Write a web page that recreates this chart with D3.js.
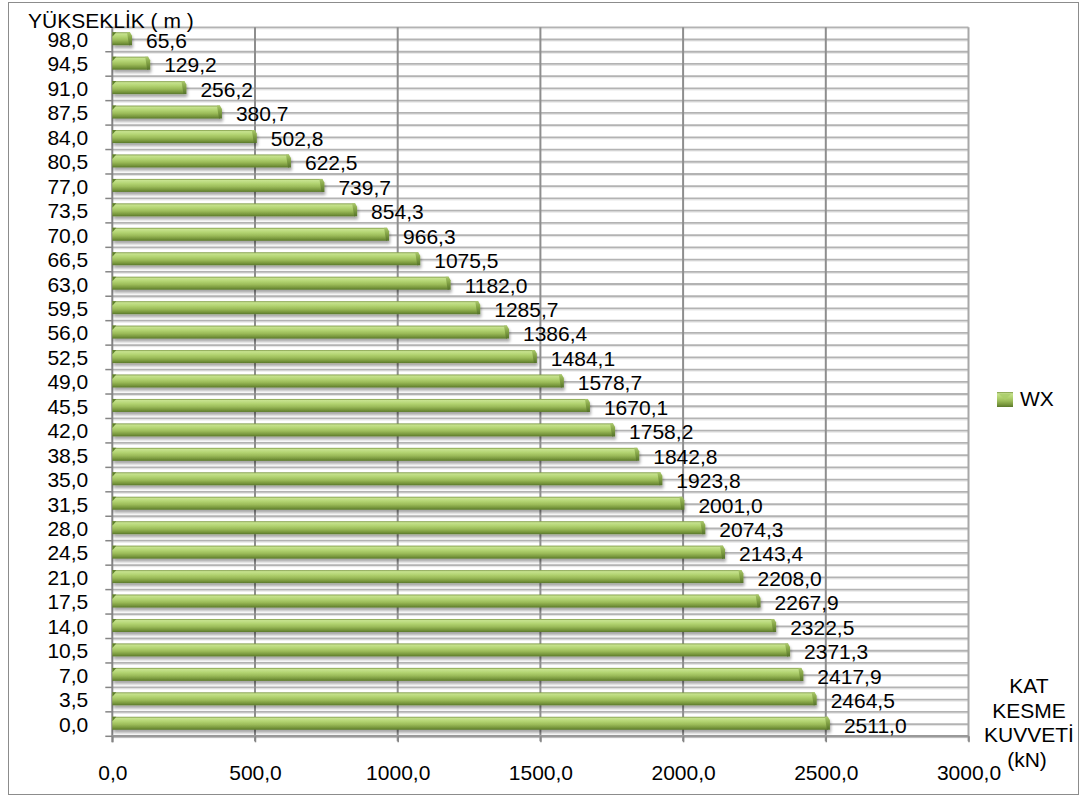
<!DOCTYPE html>
<html>
<head>
<meta charset="utf-8">
<script src="https://cdn.jsdelivr.net/npm/d3@7/dist/d3.min.js"></script>
<style>
  html, body { margin: 0; padding: 0; background: #ffffff; }
  svg { display: block; }
  text { font-family: "Liberation Sans", Arial, sans-serif; fill: #000; }
</style>
</head>
<body>
<svg id="chart" width="1083" height="798"></svg>
<script>
// ---- data ----
const categories = ["0.0","3.5","7.0","10.5","14.0","17.5","21.0","24.5","28.0","31.5","35.0","38.5","42.0","45.5","49.0","52.5","56.0","59.5","63.0","66.5","70.0","73.5","77.0","80.5","84.0","87.5","91.0","94.5","98.0"];
const valuesWX = [2511.0,2464.5,2417.9,2371.3,2322.5,2267.9,2208.0,2143.4,2074.3,2001.0,1923.8,1842.8,1758.2,1670.1,1578.7,1484.1,1386.4,1285.7,1182.0,1075.5,966.3,854.3,739.7,622.5,502.8,380.7,256.2,129.2,65.6];
const xTicks = [0,500,1000,1500,2000,2500,3000];
const seriesName = "WX";
const yTitle = "YÜKSEKLİK ( m )";
const xTitleLines = ["KAT","KESME","KUVVETİ"];
const xUnit = "(kN)";

const FS = 21;
const trLocale = d3.formatLocale({decimal: ",", thousands: "", grouping: [3], currency: ["", ""]});
const fmt1 = trLocale.format(".1f");

const svg = d3.select("#chart");
const W = 1083, H = 798;
svg.append("rect").attr("width", W).attr("height", H).attr("fill", "#fff");
svg.append("rect").attr("x", 8.5).attr("y", 2.5).attr("width", 1070).attr("height", 792)
  .attr("fill", "none").attr("stroke", "#8c8c8c").attr("stroke-width", 1);

const pLeft = 112.3, pRight = 968.5, pTop = 27.3, pBottom = 736.3;
const x = d3.scaleLinear().domain([0, 3000]).range([pLeft, pRight]);
const y = d3.scaleBand().domain(categories.slice().reverse()).range([pTop, pBottom]).padding(0);
const bw = y.bandwidth();

// defs
const defs = svg.append("defs");
const g1 = defs.append("linearGradient").attr("id", "barGrad").attr("x1", 0).attr("y1", 0).attr("x2", 0).attr("y2", 1);
[["0%","#7d9845"],["12%","#c6e28e"],["35%","#b3d472"],["60%","#9bbb59"],["85%","#76953b"],["100%","#5a782b"]]
  .forEach(s => g1.append("stop").attr("offset", s[0]).attr("stop-color", s[1]));
const g2 = defs.append("linearGradient").attr("id", "capGrad").attr("x1", 0).attr("y1", 0).attr("x2", 0).attr("y2", 1);
[["0%","#a9c86a"],["50%","#7f9f42"],["100%","#55722a"]]
  .forEach(s => g2.append("stop").attr("offset", s[0]).attr("stop-color", s[1]));
const f = defs.append("filter").attr("id", "shadow").attr("x", "-5%").attr("y", "-50%").attr("width", "110%").attr("height", "220%");
f.append("feDropShadow").attr("dx", 1).attr("dy", 3).attr("stdDeviation", 1.6)
  .attr("flood-color", "#000").attr("flood-opacity", 0.35);

// horizontal gridlines (boundaries and centres)
const hLines = [];
for (let i = 0; i <= categories.length * 2; i++) hLines.push(pTop + i * bw / 2);
const grid = svg.append("g");
grid.append("g").selectAll("line").data(hLines).join("line")
  .attr("x1", pLeft).attr("x2", pRight).attr("y1", d => d + 1.5).attr("y2", d => d + 1.5)
  .attr("stroke", "#e4e4e4").attr("stroke-width", 1);
grid.append("g").selectAll("line").data(hLines).join("line")
  .attr("x1", pLeft).attr("x2", pRight).attr("y1", d => d).attr("y2", d => d)
  .attr("stroke", "#b3b3b3").attr("stroke-width", 1.8);

// vertical gridlines
grid.append("g").selectAll("line").data(xTicks.slice(1)).join("line")
  .attr("x1", d => x(d)).attr("x2", d => x(d)).attr("y1", pTop).attr("y2", pBottom + 5)
  .attr("stroke", d => d === 3000 ? "#a8a8a8" : "#8e8e8e").attr("stroke-width", 2);

// axes lines and ticks
svg.append("line").attr("x1", pLeft).attr("x2", pLeft).attr("y1", pTop).attr("y2", pBottom + 6)
  .attr("stroke", "#858585").attr("stroke-width", 2);
svg.append("line").attr("x1", pLeft).attr("x2", pRight).attr("y1", pBottom).attr("y2", pBottom)
  .attr("stroke", "#999").attr("stroke-width", 2.5);
const yBounds = [];
for (let i = 0; i <= categories.length; i++) yBounds.push(pTop + i * bw);
svg.append("g").selectAll("line").data(yBounds).join("line")
  .attr("x1", pLeft - 7).attr("x2", pLeft).attr("y1", d => d).attr("y2", d => d)
  .attr("stroke", "#858585").attr("stroke-width", 1.5);

// bars
const bars = svg.append("g").attr("filter", "url(#shadow)");
categories.forEach((c, i) => {
  const v = valuesWX[i];
  const cy = y(c) + bw / 2 - 0.8;
  const x0 = x(0), xe = x(v);
  const g = bars.append("g");
  g.append("rect").attr("x", x0).attr("y", cy - 6.5).attr("width", Math.max(0, xe - x0 - 1)).attr("height", 13)
    .attr("fill", "url(#barGrad)");
  g.append("path")
    .attr("d", `M${xe - 4},${cy - 6.5} L${xe - 1},${cy - 6.5} L${xe + 1},${cy - 3} L${xe + 1},${cy + 6.5} L${xe - 2},${cy + 6.5} Z`)
    .attr("fill", "url(#capGrad)");
  g.append("path")
    .attr("d", `M${x0},${cy - 6.5} L${x0 + 4},${cy - 6.5} L${x0},${cy - 2} Z`)
    .attr("fill", "#5f7f2e");
});

// value labels
svg.append("g").selectAll("text").data(categories).join("text")
  .attr("x", (c, i) => x(valuesWX[i]) + 15)
  .attr("y", c => y(c) + bw / 2 + 8.5)
  .attr("font-size", FS)
  .text((c, i) => fmt1(valuesWX[i]));

// y axis labels via axis
const yAxis = d3.axisLeft(y).tickSize(0).tickPadding(24).tickFormat(c => fmt1(+c));
const yg = svg.append("g").attr("transform", `translate(${pLeft},0)`).call(yAxis);
yg.select(".domain").remove();
yg.selectAll("text").attr("font-size", FS).attr("font-family", "Liberation Sans, Arial, sans-serif")
  .attr("fill", "#000").attr("dy", null).attr("y", 7.5);

// x axis
const xAxis = d3.axisBottom(x).tickValues(xTicks).tickSize(6).tickPadding(24).tickFormat(fmt1);
const xg = svg.append("g").attr("transform", `translate(0,${pBottom})`).call(xAxis);
xg.select(".domain").remove();
xg.selectAll(".tick line").attr("stroke", "#858585").attr("stroke-width", 1.5);
xg.selectAll("text").attr("font-size", FS).attr("font-family", "Liberation Sans, Arial, sans-serif")
  .attr("fill", "#000").attr("dy", null).attr("y", 44);

// titles
svg.append("text").attr("x", 28).attr("y", 28).attr("font-size", FS).text(yTitle);
svg.append("g").selectAll("text").data(xTitleLines).join("text")
  .attr("x", 1029).attr("y", (d, i) => 693 + i * 24.5).attr("text-anchor", "middle")
  .attr("font-size", FS).text(d => d);
svg.append("text").attr("x", 1027).attr("y", 767).attr("text-anchor", "middle").attr("font-size", FS).text(xUnit);

// legend
const lg = svg.append("g");
lg.append("rect").attr("x", 997).attr("y", 392).attr("width", 16).attr("height", 15).attr("fill", "url(#barGrad)");
lg.append("path").attr("d", "M999,394 L1011,394 L1005,400 Z").attr("fill", "#a9cc6a").attr("opacity", 0.8);
lg.append("text").attr("x", 1020).attr("y", 406).attr("font-size", FS).text(seriesName);
</script>
</body>
</html>
